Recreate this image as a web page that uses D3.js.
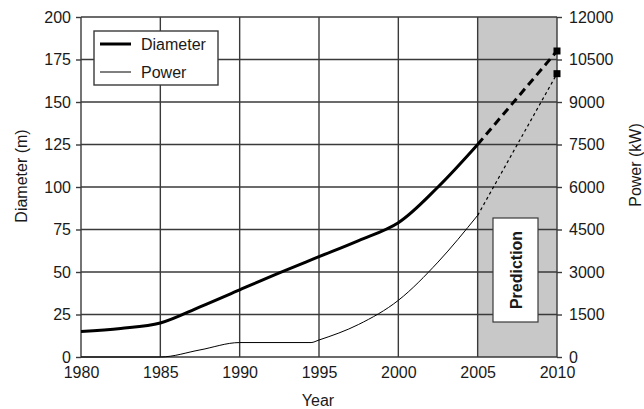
<!DOCTYPE html>
<html>
<head>
<meta charset="utf-8">
<script src="https://cdn.jsdelivr.net/npm/d3@7/dist/d3.min.js"></script>
<style>
  body { margin: 0; background: #fff; }
  text { font-family: "Liberation Sans", Arial, sans-serif; fill: #1a1a1a; }
</style>
</head>
<body>
<script>
// data
var yearTicks = [1980, 1985, 1990, 1995, 2000, 2005, 2010];
var diameterTicks = [0, 25, 50, 75, 100, 125, 150, 175, 200];
var powerTicks = [0, 1500, 3000, 4500, 6000, 7500, 9000, 10500, 12000];

var diamYears = [1980, 1982.5, 1985, 1987.5, 1990, 1992.5, 1995, 1997.5, 2000, 2002.5, 2005];
var diamValues = [15, 16.8, 20, 29.5, 39.5, 49.5, 59, 68.5, 79, 100, 125];

var powerYears = [1980, 1985, 1987.5, 1990, 1994.5, 1995, 1997.5, 2000, 2002.5, 2005];
var powerValues = [0, 0, 250, 510, 510, 600, 1150, 2000, 3350, 5000];

var predYears = [2005, 2010];
var predDiameter = [125, 180];
var predPower = [5000, 10000];

var W = 644, H = 409;
var margin = { left: 81, right: 87, top: 17, bottom: 52 };

var svg = d3.select("body").append("svg").attr("width", W).attr("height", H);

var x = d3.scaleLinear().domain([1980, 2010]).range([margin.left, W - margin.right]);
var yL = d3.scaleLinear().domain([0, 200]).range([H - margin.bottom, margin.top]);
var yR = d3.scaleLinear().domain([0, 12000]).range([H - margin.bottom, margin.top]);

var gridColor = "#3a3a3a";

// prediction zone
svg.append("rect")
  .attr("x", x(2005)).attr("y", yL(200))
  .attr("width", x(2010) - x(2005)).attr("height", yL(0) - yL(200))
  .attr("fill", "#c8c8c8");

// grid
svg.append("g").selectAll("line").data(diameterTicks).enter().append("line")
  .attr("x1", x(1980)).attr("x2", x(2010))
  .attr("y1", function (d) { return yL(d); }).attr("y2", function (d) { return yL(d); })
  .attr("stroke", gridColor).attr("stroke-width", 1.4);
svg.append("g").selectAll("line").data(yearTicks).enter().append("line")
  .attr("y1", yL(0)).attr("y2", yL(200))
  .attr("x1", function (d) { return x(d); }).attr("x2", function (d) { return x(d); })
  .attr("stroke", gridColor).attr("stroke-width", 1.4);

// axes
var axL = svg.append("g").attr("transform", "translate(" + x(1980) + ",0)")
  .call(d3.axisLeft(yL).tickValues(diameterTicks).tickSize(5).tickPadding(5));
var axR = svg.append("g").attr("transform", "translate(" + x(2010) + ",0)")
  .call(d3.axisRight(yR).tickValues(powerTicks).tickFormat(d3.format("d")).tickSize(5).tickPadding(7));
var axB = svg.append("g").attr("transform", "translate(0," + yL(0) + ")")
  .call(d3.axisBottom(x).tickValues(yearTicks).tickFormat(d3.format("d")).tickSize(0).tickPadding(10));

[axL, axR, axB].forEach(function (a) {
  a.select(".domain").remove();
  a.selectAll(".tick line").attr("stroke", gridColor).attr("stroke-width", 1.4);
  a.selectAll(".tick text").attr("font-size", 16).attr("fill", "#1a1a1a")
    .attr("font-family", "'Liberation Sans', Arial, sans-serif");
});

// axis titles
svg.append("text").attr("x", x(1980) + (x(2010) - x(1980)) / 2 - 1).attr("y", 406)
  .attr("text-anchor", "middle").attr("font-size", 16).text("Year");
svg.append("text").attr("transform", "translate(27,176) rotate(-90)")
  .attr("text-anchor", "middle").attr("font-size", 16).text("Diameter (m)");
svg.append("text").attr("transform", "translate(641,165) rotate(-90)")
  .attr("text-anchor", "middle").attr("font-size", 16).text("Power (kW)");

// lines
var diamLine = d3.line().x(function (d) { return x(d[0]); }).y(function (d) { return yL(d[1]); }).curve(d3.curveCatmullRom.alpha(0.5));
var powerLine = d3.line().x(function (d) { return x(d[0]); }).y(function (d) { return yR(d[1]); }).curve(d3.curveMonotoneX);

svg.append("path").datum(d3.zip(diamYears, diamValues))
  .attr("d", diamLine).attr("fill", "none").attr("stroke", "#000").attr("stroke-width", 3);
svg.append("path").datum(d3.zip(powerYears, powerValues))
  .attr("d", powerLine).attr("fill", "none").attr("stroke", "#000").attr("stroke-width", 1);

svg.append("path").datum(d3.zip(predYears, predDiameter))
  .attr("d", diamLine.curve(d3.curveLinear)).attr("fill", "none").attr("stroke", "#000")
  .attr("stroke-width", 3).attr("stroke-dasharray", "8,5");
svg.append("path").datum(d3.zip(predYears, predPower))
  .attr("d", powerLine.curve(d3.curveLinear)).attr("fill", "none").attr("stroke", "#000")
  .attr("stroke-width", 1.2).attr("stroke-dasharray", "3,3");

// end markers
svg.append("rect").attr("x", x(2010) - 3.5).attr("y", yL(predDiameter[1]) - 3.5)
  .attr("width", 7).attr("height", 7).attr("fill", "#000");
svg.append("rect").attr("x", x(2010) - 3.5).attr("y", yR(predPower[1]) - 3.5)
  .attr("width", 7).attr("height", 7).attr("fill", "#000");

// prediction label
var px0 = 493, px1 = 538, py0 = 218, py1 = 322;
svg.append("rect").attr("x", px0).attr("y", py0).attr("width", px1 - px0).attr("height", py1 - py0)
  .attr("fill", "#fff").attr("stroke", gridColor).attr("stroke-width", 1.2);
svg.append("text").attr("transform", "translate(" + ((px0 + px1) / 2 + 6) + "," + ((py0 + py1) / 2) + ") rotate(-90)")
  .attr("text-anchor", "middle").attr("font-size", 16).attr("font-weight", "bold").text("Prediction");

// legend
var lg = svg.append("g");
lg.append("rect").attr("x", 94).attr("y", 31).attr("width", 124).attr("height", 54)
  .attr("fill", "#fff").attr("stroke", gridColor).attr("stroke-width", 1.4);
lg.append("line").attr("x1", 100).attr("x2", 131).attr("y1", 44).attr("y2", 44)
  .attr("stroke", "#000").attr("stroke-width", 3);
lg.append("line").attr("x1", 100).attr("x2", 131).attr("y1", 72).attr("y2", 72)
  .attr("stroke", "#000").attr("stroke-width", 1);
lg.append("text").attr("x", 141).attr("y", 50).attr("font-size", 16).text("Diameter");
lg.append("text").attr("x", 141).attr("y", 78).attr("font-size", 16).text("Power");
</script>
</body>
</html>
